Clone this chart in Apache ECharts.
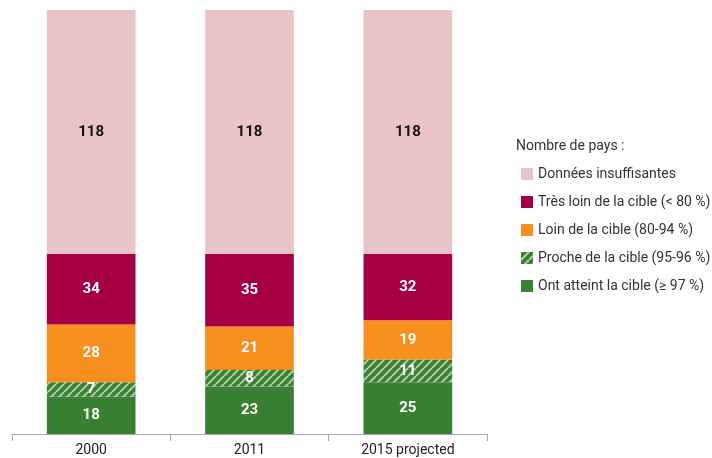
<!DOCTYPE html>
<html>
<head>
<meta charset="utf-8">
<script src="https://cdn.jsdelivr.net/npm/echarts@6/dist/echarts.min.js"></script>
<style>
  html, body { margin: 0; padding: 0; background: #fff; }
  #chart { width: 712px; height: 458px; }
</style>
</head>
<body>
<div id="chart"></div>
<script>
// Number of countries per status, by year
const categories = ['2000', '2011', '2015 projected'];
const reached = [18, 23, 25];        // Ont atteint la cible (≥ 97 %)
const close = [7, 8, 11];            // Proche de la cible (95-96 %)
const far = [28, 21, 19];            // Loin de la cible (80-94 %)
const veryFar = [34, 35, 32];        // Très loin de la cible (< 80 %)
const noData = [118, 118, 118];      // Données insuffisantes

const legendTitle = 'Nombre de pays :';
const names = {
  noData: 'Données insuffisantes',
  veryFar: 'Très loin de la cible (< 80 %)',
  far: 'Loin de la cible (80-94 %)',
  close: 'Proche de la cible (95-96 %)',
  reached: 'Ont atteint la cible (≥ 97 %)'
};

const FONT = 'Roboto';

// diagonal hatch for the "close to target" segment
function hatch() {
  const c = document.createElement('canvas');
  c.width = 8; c.height = 8;
  const g = c.getContext('2d');
  g.fillStyle = '#398032';
  g.fillRect(0, 0, 8, 8);
  g.strokeStyle = '#a8c9a2';
  g.lineWidth = 2.2;
  g.beginPath();
  for (let k = -8; k <= 16; k += 8) {
    g.moveTo(k, 8);
    g.lineTo(k + 8, 0);
  }
  g.stroke();
  return { image: c, repeat: 'repeat' };
}

function seg(name, data, color, labelColor) {
  return {
    name: name,
    type: 'bar',
    stack: 'total',
    data: data,
    barWidth: '56%',
    itemStyle: { color: color },
    label: {
      show: true,
      position: 'inside',
      color: labelColor,
      fontFamily: FONT,
      fontWeight: 'bold',
      fontSize: 15
    },
    emphasis: { disabled: true }
  };
}

const chart = echarts.init(document.getElementById('chart'), null, { renderer: 'canvas' });
chart.setOption({
  animation: false,
  textStyle: { fontFamily: FONT },
  grid: { left: 12, right: 225, top: 10, bottom: 24, containLabel: false },
  xAxis: {
    type: 'category',
    data: categories,
    axisLine: { lineStyle: { color: '#a9a9a9', width: 1 } },
    axisTick: { show: true, length: 7, lineStyle: { color: '#a9a9a9' } },
    axisLabel: { color: '#222', fontSize: 14, fontFamily: FONT, margin: 9 }
  },
  yAxis: {
    type: 'value',
    min: 0,
    max: 205,
    show: false,
    splitLine: { show: false }
  },
  graphic: [{
    type: 'text',
    left: 516,
    top: 139,
    style: { text: legendTitle, fill: '#333', font: '14px ' + FONT }
  }],
  legend: {
    orient: 'vertical',
    left: 516,
    top: 162,
    itemWidth: 12,
    itemHeight: 12,
    itemGap: 14,
    icon: 'rect',
    textStyle: { color: '#333', fontSize: 14, fontFamily: FONT },
    data: [names.noData, names.veryFar, names.far, names.close, names.reached]
  },
  series: [
    seg(names.reached, reached, '#398032', '#fff'),
    seg(names.close, close, hatch(), '#fff'),
    seg(names.far, far, '#f7901e', '#fff'),
    seg(names.veryFar, veryFar, '#a50044', '#fff'),
    seg(names.noData, noData, '#e8c4c7', '#111')
  ]
});
</script>
</body>
</html>
